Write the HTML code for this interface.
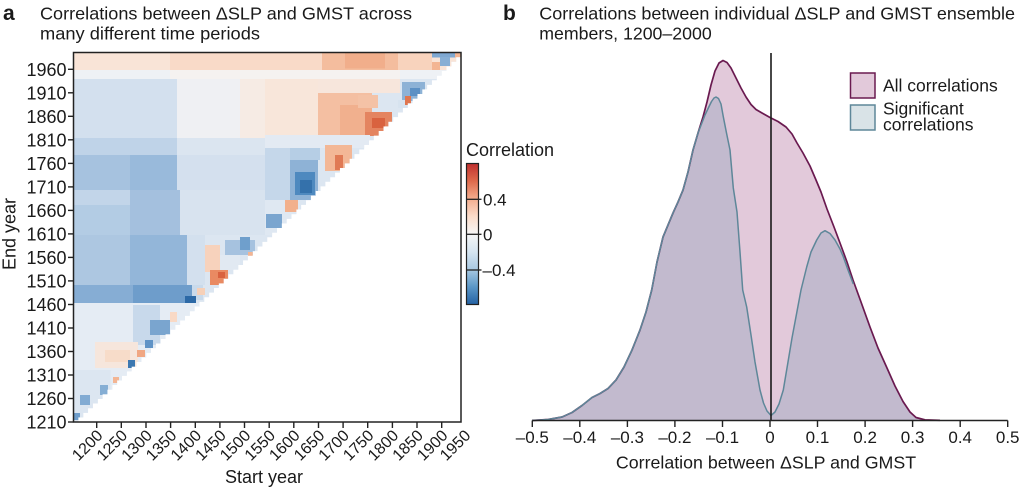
<!DOCTYPE html>
<html>
<head>
<meta charset="utf-8">
<style>
html,body{margin:0;padding:0;background:#fff;}
svg{display:block;}
text{font-family:"Liberation Sans","DejaVu Sans",sans-serif;fill:#1a1a1a;}
</style>
</head>
<body>
<svg width="1024" height="489" viewBox="0 0 1024 489" xmlns="http://www.w3.org/2000/svg">
<defs>
<clipPath id="tri">
<path d="M73.5,422
h4.844v-4.619 h4.844v-4.619 h4.844v-4.619 h4.844v-4.619 h4.844v-4.619 h4.844v-4.619 h4.844v-4.619 h4.844v-4.619 h4.844v-4.619 h4.844v-4.619
h4.844v-4.619 h4.844v-4.619 h4.844v-4.619 h4.844v-4.619 h4.844v-4.619 h4.844v-4.619 h4.844v-4.619 h4.844v-4.619 h4.844v-4.619 h4.844v-4.619
h4.844v-4.619 h4.844v-4.619 h4.844v-4.619 h4.844v-4.619 h4.844v-4.619 h4.844v-4.619 h4.844v-4.619 h4.844v-4.619 h4.844v-4.619 h4.844v-4.619
h4.844v-4.619 h4.844v-4.619 h4.844v-4.619 h4.844v-4.619 h4.844v-4.619 h4.844v-4.619 h4.844v-4.619 h4.844v-4.619 h4.844v-4.619 h4.844v-4.619
h4.844v-4.619 h4.844v-4.619 h4.844v-4.619 h4.844v-4.619 h4.844v-4.619 h4.844v-4.619 h4.844v-4.619 h4.844v-4.619 h4.844v-4.619 h4.844v-4.619
h4.844v-4.619 h4.844v-4.619 h4.844v-4.619 h4.844v-4.619 h4.844v-4.619 h4.844v-4.619 h4.844v-4.619 h4.844v-4.619 h4.844v-4.619 h4.844v-4.619
h4.844v-4.619 h4.844v-4.619 h4.844v-4.619 h4.844v-4.619 h4.844v-4.619 h4.844v-4.619 h4.844v-4.619 h4.844v-4.619 h4.844v-4.619 h4.844v-4.619
h4.844v-4.619 h4.844v-4.619 h4.844v-4.619 h4.844v-4.619 h4.844v-4.619 h4.844v-4.619 h4.844v-4.619 h4.844v-4.619 h4.844v-4.619 h4.844v-4.619
H73.5Z"/>
</clipPath>
<linearGradient id="cbar" x1="0" y1="0" x2="0" y2="1">
<stop offset="0" stop-color="#c0302f"/>
<stop offset="0.125" stop-color="#de6a4c"/>
<stop offset="0.25" stop-color="#f3ad8e"/>
<stop offset="0.375" stop-color="#fbdcca"/>
<stop offset="0.5" stop-color="#f6f6f6"/>
<stop offset="0.625" stop-color="#d6e5f1"/>
<stop offset="0.75" stop-color="#a9c9e2"/>
<stop offset="0.875" stop-color="#5b97c7"/>
<stop offset="1" stop-color="#2462a4"/>
</linearGradient>
</defs>

<!-- Panel a titles -->
<text x="3" y="20" font-size="21" font-weight="bold">a</text>
<text x="40" y="19.5" font-size="17.5" textLength="372" lengthAdjust="spacingAndGlyphs">Correlations between ΔSLP and GMST across</text>
<text x="40" y="39.5" font-size="17.5" textLength="220" lengthAdjust="spacingAndGlyphs">many different time periods</text>

<!-- Heatmap -->
<g clip-path="url(#tri)" shape-rendering="crispEdges">
<rect x="73.5" y="52.5" width="388" height="370" fill="#dce6f1"/>
<!-- top band -->
<rect x="73.5" y="52.5" width="388" height="18" fill="#f9e4d7"/>
<rect x="170" y="52.5" width="152" height="18" fill="#f9dac8"/>
<rect x="322" y="52.5" width="76" height="20" fill="#f4bd9e"/>
<rect x="345" y="52.5" width="40" height="16" fill="#f1ae8b"/>
<rect x="398" y="52.5" width="34" height="20" fill="#f8d3bd"/>
<rect x="432" y="52.5" width="23" height="5" fill="#7fa8d1"/>
<rect x="440" y="57" width="10" height="9" fill="#88afd5"/>
<rect x="432" y="62" width="8" height="8" fill="#f3b593"/>
<rect x="455" y="52.5" width="7" height="5" fill="#f3b593"/>
<!-- white band -->
<rect x="73.5" y="70" width="388" height="9" fill="#eef1f5"/>
<rect x="170" y="70" width="230" height="9" fill="#f5f2f0"/>
<!-- upper region -->
<rect x="73.5" y="79" width="104" height="59" fill="#d3e0ee"/>
<rect x="177" y="79" width="63" height="59" fill="#eff0f3"/>
<rect x="240" y="79" width="25" height="59" fill="#f6ebe4"/>
<rect x="265" y="79" width="53" height="59" fill="#f8e6da"/>
<rect x="318" y="79" width="82" height="14" fill="#f7e6dc"/>
<rect x="318" y="93" width="54" height="43" fill="#f4bfa2"/>
<rect x="340" y="105" width="32" height="31" fill="#f1b08e"/>
<rect x="358" y="95" width="20" height="13" fill="#f4c2a6"/>
<rect x="365" y="112" width="27" height="24" fill="#e48460"/>
<rect x="372" y="118" width="13" height="10" fill="#d9623f"/>
<rect x="402" y="82" width="23" height="19" fill="#8db2d6"/>
<rect x="410" y="88" width="10" height="8" fill="#5c90c4"/>
<rect x="398" y="100" width="12" height="8" fill="#d7e3ef"/>
<rect x="405" y="96" width="6" height="9" fill="#e0764f"/>
<!-- band -->
<rect x="265" y="135" width="105" height="13" fill="#e3eaf3"/>
<!-- y 138-155 -->
<rect x="73.5" y="138" width="104" height="17" fill="#bfd3e8"/>
<rect x="177" y="138" width="88" height="17" fill="#dbe5f0"/>
<!-- y 155-190 -->
<rect x="73.5" y="155" width="57" height="35" fill="#a6c2df"/>
<rect x="130" y="155" width="47" height="35" fill="#99badb"/>
<rect x="177" y="155" width="88" height="35" fill="#d4e0ee"/>
<rect x="265" y="148" width="27" height="52" fill="#c5d7ea"/>
<rect x="290" y="148" width="30" height="12" fill="#b6cee5"/>
<rect x="290" y="160" width="28" height="40" fill="#8eb2d6"/>
<rect x="295" y="172" width="20" height="23" fill="#4e89bf"/>
<rect x="300" y="180" width="12" height="13" fill="#3471ab"/>
<rect x="325" y="145" width="27" height="26" fill="#f3b796"/>
<rect x="335" y="155" width="8" height="15" fill="#e07a55"/>
<!-- y 190-235 -->
<rect x="73.5" y="190" width="57" height="15" fill="#c2d5e9"/>
<rect x="73.5" y="205" width="57" height="30" fill="#b3cce4"/>
<rect x="130" y="190" width="50" height="45" fill="#a4c0de"/>
<rect x="180" y="190" width="85" height="45" fill="#d8e3ef"/>
<rect x="265" y="200" width="35" height="35" fill="#dfe8f2"/>
<rect x="285" y="200" width="13" height="12" fill="#f2b08c"/>
<rect x="266" y="214" width="16" height="14" fill="#7aa5cf"/>
<!-- y 235-285 -->
<rect x="73.5" y="235" width="57" height="50" fill="#adc7e1"/>
<rect x="130" y="235" width="57" height="50" fill="#93b6d9"/>
<rect x="187" y="235" width="18" height="50" fill="#d3e0ee"/>
<rect x="205" y="245" width="15" height="27" fill="#f7d2bc"/>
<rect x="220" y="255" width="20" height="15" fill="#e1e9f2"/>
<rect x="210" y="270" width="18" height="15" fill="#e98a62"/>
<rect x="218" y="272" width="7" height="6" fill="#d9623f"/>
<rect x="225" y="240" width="30" height="15" fill="#a6c2df"/>
<rect x="240" y="237" width="10" height="13" fill="#6f9fcc"/>
<rect x="248" y="252" width="7" height="6" fill="#f3b593"/>
<!-- y 285-303 -->
<rect x="73.5" y="285" width="60" height="18" fill="#86add4"/>
<rect x="133" y="285" width="59" height="18" fill="#6e9dcb"/>
<rect x="192" y="285" width="11" height="15" fill="#c9daeb"/>
<rect x="197" y="288" width="8" height="7" fill="#f6d0b8"/>
<rect x="185" y="296" width="11" height="10" fill="#2c69a6"/>
<!-- lower region -->
<rect x="73.5" y="303" width="388" height="120" fill="#e5ecf4"/>
<rect x="73.5" y="370" width="37" height="53" fill="#dce6f1"/>
<rect x="133" y="305" width="27" height="40" fill="#c8d9eb"/>
<rect x="95" y="342" width="43" height="26" fill="#f6e6dc"/>
<rect x="105" y="350" width="25" height="12" fill="#f7dcc9"/>
<rect x="170" y="312" width="7" height="10" fill="#f9d9c5"/>
<rect x="150" y="320" width="20" height="15" fill="#7aa5cf"/>
<rect x="145" y="340" width="8" height="8" fill="#5f93c6"/>
<rect x="137" y="350" width="8" height="7" fill="#f0a783"/>
<rect x="128" y="360" width="7" height="8" fill="#3c78b1"/>
<rect x="113" y="377" width="6" height="6" fill="#f3b593"/>
<rect x="100" y="385" width="8" height="10" fill="#85aed4"/>
<rect x="80" y="395" width="10" height="10" fill="#82abd3"/>
<rect x="73.5" y="413" width="6.5" height="7" fill="#6e9dcb"/>
</g>
<rect x="73.5" y="52.5" width="387.5" height="369.5" fill="none" stroke="#222" stroke-width="1.5"/>

<!-- Y ticks panel a -->
<g stroke="#222" stroke-width="1.4">
<line x1="68" y1="69.3" x2="73.5" y2="69.3"/>
<line x1="68" y1="92.8" x2="73.5" y2="92.8"/>
<line x1="68" y1="116.3" x2="73.5" y2="116.3"/>
<line x1="68" y1="139.8" x2="73.5" y2="139.8"/>
<line x1="68" y1="163.4" x2="73.5" y2="163.4"/>
<line x1="68" y1="186.9" x2="73.5" y2="186.9"/>
<line x1="68" y1="210.4" x2="73.5" y2="210.4"/>
<line x1="68" y1="233.9" x2="73.5" y2="233.9"/>
<line x1="68" y1="257.4" x2="73.5" y2="257.4"/>
<line x1="68" y1="280.9" x2="73.5" y2="280.9"/>
<line x1="68" y1="304.5" x2="73.5" y2="304.5"/>
<line x1="68" y1="328.0" x2="73.5" y2="328.0"/>
<line x1="68" y1="351.5" x2="73.5" y2="351.5"/>
<line x1="68" y1="375.0" x2="73.5" y2="375.0"/>
<line x1="68" y1="398.5" x2="73.5" y2="398.5"/>
<line x1="68" y1="422.0" x2="73.5" y2="422.0"/>
</g>
<g font-size="18" text-anchor="end">
<text x="66.5" y="75.8">1960</text>
<text x="66.5" y="99.3">1910</text>
<text x="66.5" y="122.8">1860</text>
<text x="66.5" y="146.3">1810</text>
<text x="66.5" y="169.9">1760</text>
<text x="66.5" y="193.4">1710</text>
<text x="66.5" y="216.9">1660</text>
<text x="66.5" y="240.4">1610</text>
<text x="66.5" y="263.9">1560</text>
<text x="66.5" y="287.4">1510</text>
<text x="66.5" y="311.0">1460</text>
<text x="66.5" y="334.5">1410</text>
<text x="66.5" y="358.0">1360</text>
<text x="66.5" y="381.5">1310</text>
<text x="66.5" y="405.0">1260</text>
<text x="66.5" y="428.5">1210</text>
</g>
<text transform="translate(15.5,234) rotate(-90)" font-size="18" text-anchor="middle">End year</text>

<!-- X ticks panel a -->
<g stroke="#222" stroke-width="1.4">
<line x1="96.7" y1="422" x2="96.7" y2="428"/>
<line x1="121.3" y1="422" x2="121.3" y2="428"/>
<line x1="146.0" y1="422" x2="146.0" y2="428"/>
<line x1="170.6" y1="422" x2="170.6" y2="428"/>
<line x1="195.3" y1="422" x2="195.3" y2="428"/>
<line x1="219.9" y1="422" x2="219.9" y2="428"/>
<line x1="244.5" y1="422" x2="244.5" y2="428"/>
<line x1="269.2" y1="422" x2="269.2" y2="428"/>
<line x1="293.8" y1="422" x2="293.8" y2="428"/>
<line x1="318.5" y1="422" x2="318.5" y2="428"/>
<line x1="343.1" y1="422" x2="343.1" y2="428"/>
<line x1="367.7" y1="422" x2="367.7" y2="428"/>
<line x1="392.4" y1="422" x2="392.4" y2="428"/>
<line x1="417.0" y1="422" x2="417.0" y2="428"/>
<line x1="441.7" y1="422" x2="441.7" y2="428"/>
</g>
<g font-size="16" text-anchor="end">
<text transform="translate(103.7,436.5) rotate(-45)">1200</text>
<text transform="translate(128.3,436.5) rotate(-45)">1250</text>
<text transform="translate(153.0,436.5) rotate(-45)">1300</text>
<text transform="translate(177.6,436.5) rotate(-45)">1350</text>
<text transform="translate(202.3,436.5) rotate(-45)">1400</text>
<text transform="translate(226.9,436.5) rotate(-45)">1450</text>
<text transform="translate(251.5,436.5) rotate(-45)">1500</text>
<text transform="translate(276.2,436.5) rotate(-45)">1550</text>
<text transform="translate(300.8,436.5) rotate(-45)">1600</text>
<text transform="translate(325.5,436.5) rotate(-45)">1650</text>
<text transform="translate(350.1,436.5) rotate(-45)">1700</text>
<text transform="translate(374.7,436.5) rotate(-45)">1750</text>
<text transform="translate(399.4,436.5) rotate(-45)">1800</text>
<text transform="translate(424.0,436.5) rotate(-45)">1850</text>
<text transform="translate(448.7,436.5) rotate(-45)">1900</text>
<text transform="translate(471.5,436.5) rotate(-45)">1950</text>
</g>
<text x="264" y="483" font-size="18" text-anchor="middle">Start year</text>

<!-- Colorbar -->
<text x="466" y="156" font-size="18">Correlation</text>
<rect x="466.5" y="163.5" width="12" height="141" fill="url(#cbar)" stroke="#222" stroke-width="1.2"/>
<g stroke="#222" stroke-width="1.3">
<line x1="466.5" y1="199.3" x2="481.5" y2="199.3"/>
<line x1="466.5" y1="234.3" x2="481.5" y2="234.3"/>
<line x1="466.5" y1="270" x2="481.5" y2="270"/>
</g>
<g font-size="17">
<text x="483" y="205.5">0.4</text>
<text x="483" y="240.5">0</text>
<text x="482.5" y="276">–0.4</text>
</g>

<!-- Panel b titles -->
<text x="503" y="20" font-size="21" font-weight="bold">b</text>
<text x="539.3" y="19.5" font-size="17.5" textLength="475.7" lengthAdjust="spacingAndGlyphs">Correlations between individual ΔSLP and GMST ensemble</text>
<text x="539.3" y="39.5" font-size="17.5" textLength="172.4" lengthAdjust="spacingAndGlyphs">members, 1200–2000</text>

<!-- Density fills -->
<path d="M532,420.5 L548,419.5 L562,417 L572,412.5 L582,405.5 L592,397.5 L600,393.5 L608,388.5 L616,380 L624,367 L632,350 L640,330 L646,312 L651.7,290 L657,262 L663,237 L668,225 L673,213 L678,202 L683,190 L688,172 L693,150 L698,133 L703,117 L707,102 L711,85 L715,71 L719,63 L723,60.5 L727,62.5 L731,68 L736,78 L741,88 L746,97 L751,104.5 L756,109.5 L762,113 L770,117.5 L778,121.5 L786,127 L792,134 L797,143 L803,153 L810,166 L816,180 L821,192 L827,209 L834,227 L840,243 L847,262 L853,280 L861,302 L870,327 L878,348 L887,368 L895,386 L903,401.5 L910,412 L916,417.5 L925,419.8 L940,420.3 L960,420.5 Z" fill="#e2c9da"/>
<path d="M532,420.5 L548,419.5 L562,417 L572,412.5 L582,405.5 L592,397.5 L600,393.5 L608,388.5 L616,380 L624,367 L632,350 L640,330 L646,312 L651.7,290 L657,262 L663,237 L668,225 L673,213 L678,202 L683,190 L688,172 L693,150 L698,133 L701.5,124 L705,115 L708.3,108 L711.5,101.5 L714,98 L716,97 L718.5,98.5 L721,104 L723.3,116.7 L726.5,133 L730,150 L733.3,188 L737,212 L740,252 L742.7,290 L746.7,307 L751,335 L755,362 L760,390 L763.5,403 L767,411 L771,415.5 L775,412 L779,404 L783.3,390 L788,362 L792,338 L796.7,313 L801,290 L806.7,267 L811,252 L816.7,240 L821,233 L825,230.7 L830,233.5 L835,240 L840,249 L843.3,256.7 L848,270 L853.3,284 L861,302 L870,327 L878,348 L887,368 L895,386 L903,401.5 L910,412 L916,417.5 L925,419.8 L940,420.3 L960,420.5 Z" fill="#c2bace"/>
<!-- Density strokes -->
<path d="M532,420.5 L548,419.5 L562,417 L572,412.5 L582,405.5 L592,397.5 L600,393.5 L608,388.5 L616,380 L624,367 L632,350 L640,330 L646,312 L651.7,290 L657,262 L663,237 L668,225 L673,213 L678,202 L683,190 L688,172 L693,150 L698,133 L703,117 L707,102 L711,85 L715,71 L719,63 L723,60.5 L727,62.5 L731,68 L736,78 L741,88 L746,97 L751,104.5 L756,109.5 L762,113 L770,117.5 L778,121.5 L786,127 L792,134 L797,143 L803,153 L810,166 L816,180 L821,192 L827,209 L834,227 L840,243 L847,262 L853,280 L861,302 L870,327 L878,348 L887,368 L895,386 L903,401.5 L910,412 L916,417.5 L925,419.8 L940,420.3" fill="none" stroke="#6a1a50" stroke-width="1.7" stroke-linejoin="round"/>
<path d="M532,420.5 L548,419.5 L562,417 L572,412.5 L582,405.5 L592,397.5 L600,393.5 L608,388.5 L616,380 L624,367 L632,350 L640,330 L646,312 L651.7,290 L657,262 L663,237 L668,225 L673,213 L678,202 L683,190 L688,172 L693,150 L698,133 L701.5,124 L705,115 L708.3,108 L711.5,101.5 L714,98 L716,97 L718.5,98.5 L721,104 L723.3,116.7 L726.5,133 L730,150 L733.3,188 L737,212 L740,252 L742.7,290 L746.7,307 L751,335 L755,362 L760,390 L763.5,403 L767,411 L771,415.5 L775,412 L779,404 L783.3,390 L788,362 L792,338 L796.7,313 L801,290 L806.7,267 L811,252 L816.7,240 L821,233 L825,230.7 L830,233.5 L835,240 L840,249 L843.3,256.7 L848,270 L853.3,284" fill="none" stroke="#5e8799" stroke-width="1.5" stroke-linejoin="round"/>

<!-- Zero line -->
<line x1="771" y1="53" x2="771" y2="420.5" stroke="#1a1a1a" stroke-width="1.6"/>

<!-- Legend -->
<rect x="850.5" y="73" width="24.5" height="25" fill="#e2c9da" stroke="#6a1a50" stroke-width="1.5"/>
<rect x="850.5" y="105" width="24.5" height="25" fill="#d9e3e7" stroke="#5e8799" stroke-width="1.5"/>
<g font-size="17.5">
<text x="883" y="91.7">All correlations</text>
<text x="883" y="114.3">Significant</text>
<text x="883" y="130.7">correlations</text>
</g>

<!-- Panel b x axis -->
<line x1="532.3" y1="420.5" x2="1007.7" y2="420.5" stroke="#222" stroke-width="1.5"/>
<g stroke="#222" stroke-width="1.4">
<line x1="532.3" y1="420.5" x2="532.3" y2="427"/>
<line x1="579.8" y1="420.5" x2="579.8" y2="427"/>
<line x1="627.4" y1="420.5" x2="627.4" y2="427"/>
<line x1="674.9" y1="420.5" x2="674.9" y2="427"/>
<line x1="722.5" y1="420.5" x2="722.5" y2="427"/>
<line x1="770" y1="420.5" x2="770" y2="427"/>
<line x1="817.5" y1="420.5" x2="817.5" y2="427"/>
<line x1="865.1" y1="420.5" x2="865.1" y2="427"/>
<line x1="912.6" y1="420.5" x2="912.6" y2="427"/>
<line x1="960.2" y1="420.5" x2="960.2" y2="427"/>
<line x1="1007.7" y1="420.5" x2="1007.7" y2="427"/>
</g>
<g font-size="17" text-anchor="middle">
<text x="532.3" y="443">–0.5</text>
<text x="579.8" y="443">–0.4</text>
<text x="627.4" y="443">–0.3</text>
<text x="674.9" y="443">–0.2</text>
<text x="722.5" y="443">–0.1</text>
<text x="770" y="443">0</text>
<text x="817.5" y="443">0.1</text>
<text x="865.1" y="443">0.2</text>
<text x="912.6" y="443">0.3</text>
<text x="960.2" y="443">0.4</text>
<text x="1007.7" y="443">0.5</text>
</g>
<text x="766" y="468.3" font-size="17.8" text-anchor="middle">Correlation between ΔSLP and GMST</text>
</svg>
</body>
</html>
